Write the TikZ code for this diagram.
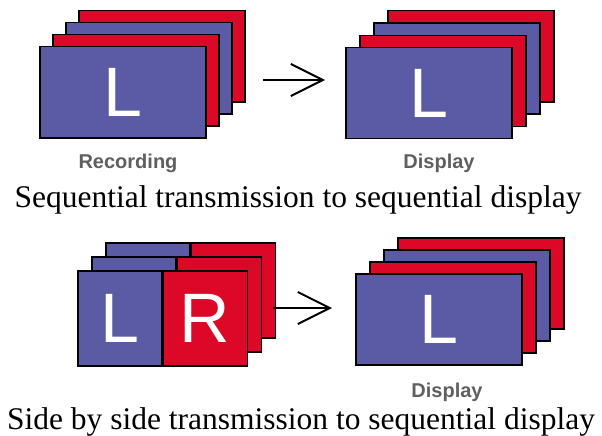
\documentclass[tikz,border=0pt]{standalone}
\usepackage{fontspec}
\setmainfont{Liberation Serif}
\newfontfamily\arialfont{Liberation Sans}
\usetikzlibrary{arrows.meta,positioning}
\definecolor{slideblue}{RGB}{90,90,165}
\definecolor{slidered}{RGB}{220,8,40}
\definecolor{tagrey}{RGB}{95,95,95}

\begin{document}
\begin{tikzpicture}[x=1pt,y=-1pt,
        slide/.style={draw=black,line width=1.5pt,anchor=north west,inner sep=0pt,
            minimum width=166pt,minimum height=91pt},
        blue slide/.style={slide,fill=slideblue},
        red slide/.style={slide,fill=slidered},
        half/.style={draw=black,line width=1.5pt,anchor=north west,inner sep=0pt,
            minimum width=84pt,minimum height=95pt},
        blue half/.style={half,fill=slideblue},
        red half/.style={half,fill=slidered},
        letter/.style={text=white,font=\arialfont\fontsize{70}{70}\selectfont},
        stacktag/.style={text=tagrey,font=\arialfont\bfseries\fontsize{20}{20}\selectfont},
        captiontext/.style={anchor=base,font=\fontsize{31.5}{32}\selectfont},
        arr/.style={line width=2.2pt,-{Straight Barb[length=32pt,width=32pt,line width=2pt]}}]

    \useasboundingbox (0,0) rectangle (602,436);

    % recording, top left
    \node[red slide]  (rec3) at (78,10) {};
    \node[blue slide] (rec2) at ([shift={(-13,12)}]rec3.north west) {};
    \node[red slide]  (rec1) at ([shift={(-13,12)}]rec2.north west) {};
    \node[blue slide,letter] (rec0) at ([shift={(-13,12)}]rec1.north west) {L};
    \node[stacktag] (rectag) at (128,163) {Recording};

    % display, top right
    \node[red slide]  (disA3) at (387,10) {};
    \node[blue slide] (disA2) at ([shift={(-14,12.3)}]disA3.north west) {};
    \node[red slide]  (disA1) at ([shift={(-14,12.3)}]disA2.north west) {};
    \node[blue slide,letter] (disA0) at ([shift={(-14,12.3)}]disA1.north west) {L};
    \node[stacktag] (disAtag) at (439,163) {Display};

    \coordinate (tailA) at (263,80);
    \coordinate (tipA) at (325,80);
    \draw[arr] (tailA) -- (tipA);

    \node[captiontext] (capA) at (298,207) {Sequential transmission to sequential display};

    % side by side, bottom left
    \node[blue half] (sbsL2) at (105,242) {};
    \node[red half]  (sbsR2) at (sbsL2.north east) {};
    \node[blue half] (sbsL1) at ([shift={(-14,14)}]sbsL2.north west) {};
    \node[red half]  (sbsR1) at (sbsL1.north east) {};
    \node[blue half,letter] (sbsL0) at ([shift={(-14,14)}]sbsL1.north west) {L};
    \node[red half,letter]  (sbsR0) at (sbsL0.north east) {R};

    % display, bottom right
    \node[red slide]  (disB3) at (397,237) {};
    \node[blue slide] (disB2) at ([shift={(-14,12)}]disB3.north west) {};
    \node[red slide]  (disB1) at ([shift={(-14,12)}]disB2.north west) {};
    \node[blue slide,letter] (disB0) at ([shift={(-14,12)}]disB1.north west) {L};
    \node[stacktag] (disBtag) at (447,392) {Display};

    \coordinate (tailB) at (273,308);
    \coordinate (tipB) at (332,308);
    \draw[arr] (tailB) -- (tipB);

    \node[captiontext] (capB) at (301,429) {Side by side transmission to sequential display};
\end{tikzpicture}
\end{document}
